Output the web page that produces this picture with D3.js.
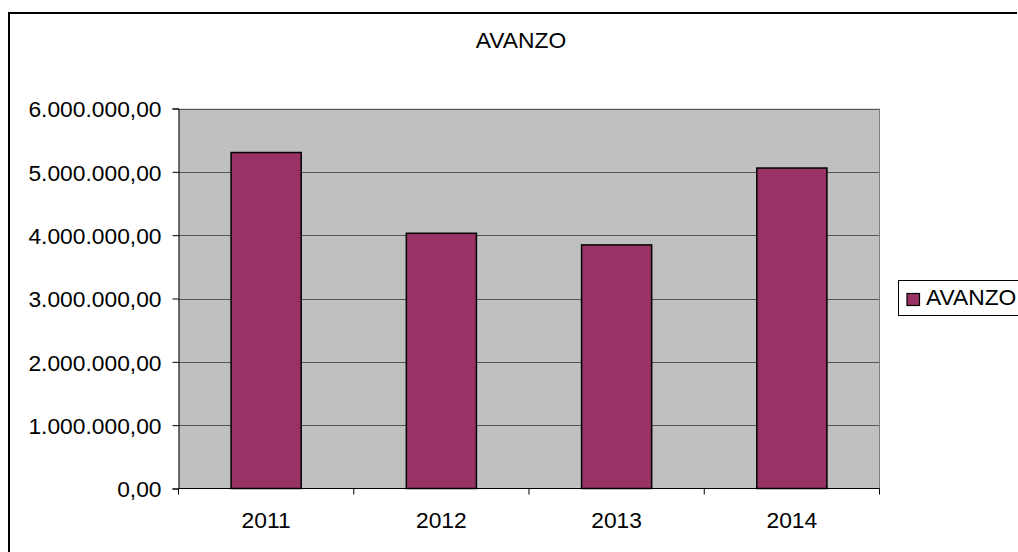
<!DOCTYPE html>
<html><head><meta charset="utf-8">
<script src="https://cdn.jsdelivr.net/npm/d3@7"></script>
<style>html,body{margin:0;padding:0;background:#fff;overflow:hidden}svg{display:block}text{font-family:"Liberation Sans",Arial,sans-serif;fill:#000}</style>
</head><body>
<script>
const categories = ["2011","2012","2013","2014"];
const seriesName = "AVANZO";
const values = [5305000, 4030000, 3846000, 5060000];
const yTicks = [0,1000000,2000000,3000000,4000000,5000000,6000000];

const W = 1018, H = 552;
const FS = "22.8px";
const svg = d3.select("body").append("svg").attr("width", W).attr("height", H);
svg.append("rect").attr("width", W).attr("height", H).attr("fill", "#fff");
// outer frame
svg.append("path").attr("d", `M9,${H+2} V13 H1017`).attr("fill","none").attr("stroke","#000").attr("stroke-width",2);

const L = 178.5, R = 879.5, T = 108.5, B = 488.5;
const x = d3.scaleBand().domain(categories).range([L, R]).paddingInner(0.6).paddingOuter(0.3);
const y = d3.scaleLinear().domain([0, 6000000]).range([B, T]);

svg.append("rect").attr("x", L).attr("y", T).attr("width", R-L).attr("height", B-T).attr("fill", "#C0C0C0");

// gridlines
svg.append("g").selectAll("line").data(yTicks.filter(d=>d>0)).join("line")
  .attr("x1", L).attr("x2", R).attr("y1", d=>Math.round(y(d))+0.5).attr("y2", d=>Math.round(y(d))+0.5)
  .attr("stroke", "#555").attr("stroke-width", 1);
// right border of plot
svg.append("line").attr("x1", R).attr("x2", R).attr("y1", T).attr("y2", B).attr("stroke", "#808080");

// bars
svg.append("g").selectAll("rect").data(values).join("rect")
  .attr("x", (d,i)=>x(categories[i])).attr("width", x.bandwidth())
  .attr("y", d=>y(d)).attr("height", d=>B-y(d))
  .attr("fill", "#993366").attr("stroke", "#000").attr("stroke-width", 1.5);

const fmt = v => d3.format(",.2f")(v).replace(/,/g,"#").replace(".",",").replace(/#/g,".");

// y axis
const yAxis = d3.axisLeft(y).tickValues(yTicks).tickSize(6).tickPadding(11).tickFormat(fmt);
const gy = svg.append("g").attr("transform", `translate(${L},0)`).call(yAxis);
gy.select(".domain").attr("stroke","#000");
gy.selectAll(".tick line").attr("stroke","#000");
gy.selectAll("text").style("font-size",FS).attr("fill","#000").attr("dy","0.36em");

// x axis with ticks at category boundaries
const boundaries = [L].concat(categories.map(c => x(c) + x.bandwidth()/2 + x.step()/2));
svg.append("line").attr("x1", L).attr("x2", R).attr("y1", B).attr("y2", B).attr("stroke","#000");
svg.append("g").selectAll("line").data(boundaries).join("line")
  .attr("x1", d=>d).attr("x2", d=>d).attr("y1", B).attr("y2", B+6).attr("stroke","#000");
const xAxis = d3.axisBottom(x).tickSize(0).tickPadding(23);
const gx = svg.append("g").attr("transform", `translate(0,${B})`).call(xAxis);
gx.select(".domain").remove();
gx.selectAll("text").style("font-size",FS).attr("fill","#000");

// title
svg.append("text").attr("x", 521).attr("y", 47.5).attr("text-anchor","middle").style("font-size",FS).text(seriesName);

// legend
const lg = svg.append("g");
lg.append("rect").attr("x", 898.5).attr("y", 280.5).attr("width", 140).attr("height", 35).attr("fill","#fff").attr("stroke","#000").attr("stroke-width",1);
lg.append("rect").attr("x", 907).attr("y", 293.5).attr("width", 12.5).attr("height", 12).attr("fill","#993366").attr("stroke","#000").attr("stroke-width",1.2);
lg.append("text").attr("x", 926).attr("y", 305).style("font-size",FS).text(seriesName);
</script>
</body></html>
